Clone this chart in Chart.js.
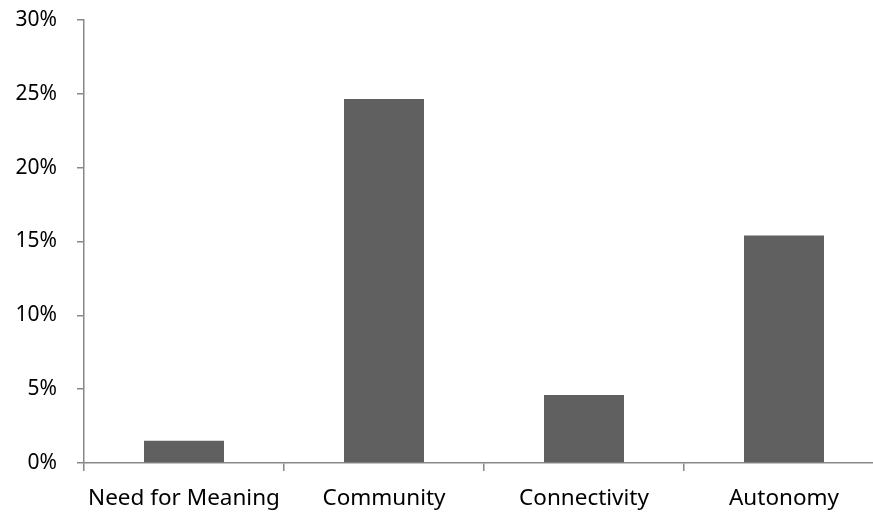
<!DOCTYPE html>
<html>
<head>
<meta charset="utf-8">
<script src="https://cdn.jsdelivr.net/npm/chart.js@4"></script>
<style>
  html, body { margin: 0; padding: 0; background: #fff; overflow: hidden; }
  #wrap { width: 873px; height: 512px; overflow: hidden; }
</style>
</head>
<body>
<div id="wrap"><canvas id="barChart" width="900" height="512"></canvas></div>
<script>
// Chart data
const categories = ['Need for Meaning', 'Community', 'Connectivity', 'Autonomy'];
const shares = [1.5, 24.65, 4.6, 15.4];
const yTicks = [0, 5, 10, 15, 20, 25, 30];

const axisGray = '#888888';

document.addEventListener("DOMContentLoaded", function () {
    Chart.defaults.font.family = "'Noto Sans', 'Open Sans', sans-serif";
    Chart.defaults.color = '#000';

    new Chart(document.getElementById('barChart').getContext('2d'), {
        type: 'bar',
        data: {
            labels: categories,
            datasets: [{
                data: shares,
                backgroundColor: '#606060',
                borderWidth: 0,
                barPercentage: 0.4,
                categoryPercentage: 1.0
            }]
        },
        options: {
            responsive: false,
            animation: false,
            layout: { padding: { top: 20, right: 16, left: 0, bottom: 0 } },
            plugins: {
                legend: { display: false },
                tooltip: { enabled: false }
            },
            scales: {
                x: {
                    offset: true,
                    grid: { offset: true, drawOnChartArea: false, tickLength: 8, color: axisGray, lineWidth: 1.5 },
                    border: { color: axisGray, width: 1.5 },
                    ticks: { font: { size: 22.5 }, padding: 14, maxRotation: 0 },
                    afterFit: (scale) => { scale.height = 49; scale.paddingLeft = 0; scale.paddingRight = 0; }
                },
                y: {
                    min: 0,
                    max: 30,
                    afterBuildTicks: (scale) => { scale.ticks = yTicks.map(v => ({ value: v })); },
                    grid: { drawOnChartArea: false, tickLength: 7, color: axisGray, lineWidth: 1.5 },
                    border: { color: axisGray, width: 1.5 },
                    ticks: { font: { size: 21 }, padding: 20, callback: (v) => v + '%' },
                    afterFit: (scale) => { scale.width = 84; scale.paddingTop = 0; scale.paddingBottom = 0; }
                }
            }
        }
    });
});
</script>
</body>
</html>
